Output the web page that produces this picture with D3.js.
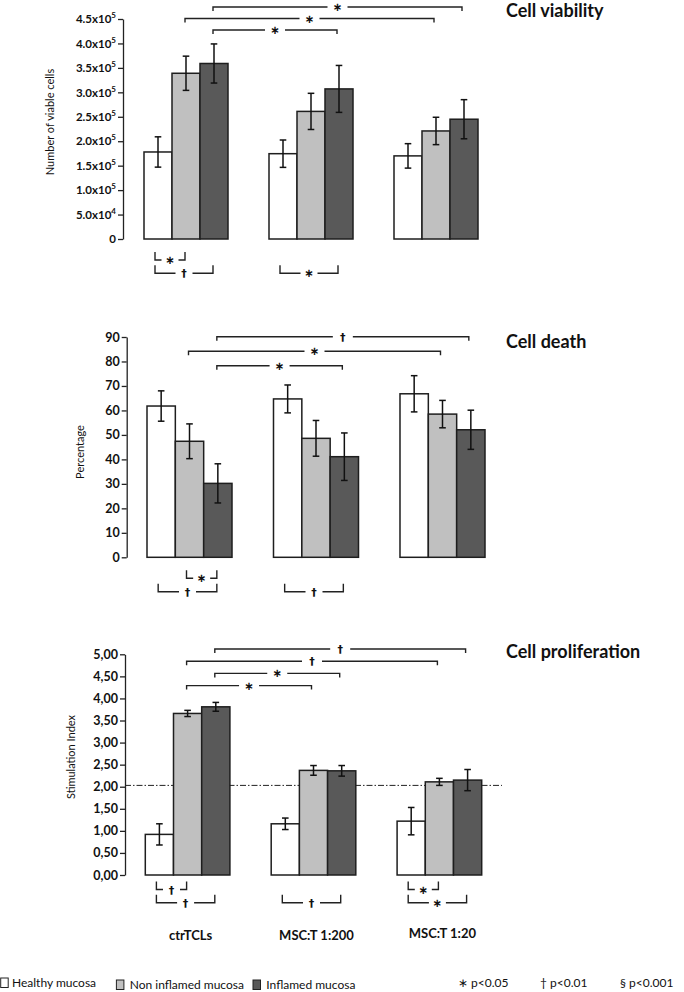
<!DOCTYPE html>
<html><head><meta charset="utf-8">
<script src="https://cdn.jsdelivr.net/npm/d3@7"></script>
<style>body{margin:0;background:#fff} svg{display:block}</style>
</head><body><svg id="c" width="684" height="992"></svg>
<script>
// ---------- data ----------
const groups = ["ctrTCLs", "MSC:T 1:200", "MSC:T 1:20"];
const seriesNames = ["Healthy mucosa", "Non inflamed mucosa", "Inflamed mucosa"];

const viabilityMean = [[178000, 339000, 359000], [174500, 261000, 307000], [170000, 221000, 245000]];
const viabilityErr  = [[31000, 35000, 40000], [28000, 37000, 48000], [25000, 28000, 40000]];
const viabilityTicks = [0, 50000, 100000, 150000, 200000, 250000, 300000, 350000, 400000, 450000];

const deathMean = [[61.8, 47.4, 30.2], [64.7, 48.6, 41.1], [66.8, 58.5, 52.1]];
const deathErr  = [[6.2, 7.1, 8.0], [5.7, 7.3, 9.7], [7.4, 5.6, 8.0]];
const deathTicks = [0, 10, 20, 30, 40, 50, 60, 70, 80, 90];

const prolifMean = [[0.92, 3.66, 3.81], [1.16, 2.37, 2.36], [1.22, 2.11, 2.15]];
const prolifErr  = [[0.24, 0.07, 0.10], [0.13, 0.11, 0.12], [0.31, 0.08, 0.24]];
const prolifTicks = [0, 0.5, 1, 1.5, 2, 2.5, 3, 3.5, 4, 4.5, 5];
const prolifThreshold = 2.03;

// significance brackets: a/b = [group index, series index]
const viabilityTopBr = [
  {a: [0, 2], b: [2, 2], label: "∗", row: 0},
  {a: [0, 1], b: [2, 1], label: "∗", row: 1},
  {a: [0, 2], b: [1, 2], label: "∗", row: 2}];
const viabilityBotBr = [
  {a: [0, 0], b: [0, 1], label: "∗", row: 0},
  {a: [0, 0], b: [0, 2], label: "†", row: 1},
  {a: [1, 0], b: [1, 2], label: "∗", row: 1}];
const deathTopBr = [
  {a: [0, 2], b: [2, 2], label: "†", row: 0},
  {a: [0, 1], b: [2, 1], label: "∗", row: 1},
  {a: [0, 2], b: [1, 2], label: "∗", row: 2}];
const deathBotBr = [
  {a: [0, 1], b: [0, 2], label: "∗", row: 0},
  {a: [0, 0], b: [0, 2], label: "†", row: 1},
  {a: [1, 0], b: [1, 2], label: "†", row: 1}];
const prolifTopBr = [
  {a: [0, 2], b: [2, 2], label: "†", row: 0},
  {a: [0, 1], b: [2, 1], label: "†", row: 1},
  {a: [0, 2], b: [1, 2], label: "∗", row: 2},
  {a: [0, 1], b: [1, 1], label: "∗", row: 3}];
const prolifBotBr = [
  {a: [0, 0], b: [0, 1], label: "†", row: 0},
  {a: [0, 0], b: [0, 2], label: "†", row: 1},
  {a: [1, 0], b: [1, 2], label: "†", row: 1},
  {a: [2, 0], b: [2, 1], label: "∗", row: 0},
  {a: [2, 0], b: [2, 2], label: "∗", row: 1}];

const legendP = ["∗ p<0.05", "† p<0.01", "§ p<0.001"];

// ---------- styles ----------
const colors = ["#ffffff", "#c0c0c0", "#595959"];
const FONT = "Lato, 'Open Sans', sans-serif";
const svg = d3.select("#c");

function drawPanel(p) {
  const g = svg.append("g");
  const y = d3.scaleLinear().domain(p.domain).range([p.yBottom, p.yTop]);
  const xg = d3.scaleBand().domain(groups).range(p.xRange).paddingInner(0.328).paddingOuter(0);
  const xs = d3.scaleBand().domain(seriesNames).range([0, xg.bandwidth()]).padding(0);
  const cx = (gi, si) => xg(groups[gi]) + xs(seriesNames[si]) + xs.bandwidth() / 2;

  // axis
  const ax = g.append("g").attr("transform", `translate(${p.axisX},0)`)
    .call(d3.axisLeft(y).tickValues(p.ticks).tickSize(5).tickSizeOuter(0).tickPadding(2).tickFormat(p.fmt));
  ax.select(".domain").attr("stroke", "#222").attr("stroke-width", 1.3);
  ax.selectAll(".tick line").attr("stroke", "#222").attr("stroke-width", 1.3);
  ax.selectAll(".tick text").attr("font-family", FONT).attr("font-weight", "bold")
    .attr("font-size", p.tickSize).attr("fill", "#111");
  if (p.sciTicks) {
    ax.selectAll(".tick text").each(function(d) {
      const t = d3.select(this);
      t.text(null);
      if (d === 0) { t.text("0"); return; }
      const e = Math.floor(Math.log10(d));
      const m = (d / Math.pow(10, e)).toFixed(1);
      t.append("tspan").text(m + "x10");
      t.append("tspan").attr("dy", -5).attr("font-size", 8).text(e);
    });
  }

  // y title
  g.append("text").attr("transform", `translate(${p.ytitleX},${p.ytitleY}) rotate(-90)`)
    .attr("text-anchor", "middle").attr("font-family", FONT).attr("font-size", 11)
    .attr("fill", "#111").text(p.ytitle);

  // reference line
  if (p.refLine !== undefined) {
    g.append("line").attr("x1", p.axisX).attr("x2", p.refEnd)
      .attr("y1", y(p.refLine)).attr("y2", y(p.refLine))
      .attr("stroke", "#222").attr("stroke-width", 1).attr("stroke-dasharray", "6,2,1.5,2");
  }

  const flat = groups.flatMap((gn, gi) => seriesNames.map((sn, si) =>
    ({gi, si, v: p.means[gi][si], e: p.errs[gi][si]})));

  g.selectAll("rect.bar").data(flat).join("rect").attr("class", "bar")
    .attr("x", d => xg(groups[d.gi]) + xs(seriesNames[d.si]))
    .attr("width", xs.bandwidth())
    .attr("y", d => y(d.v)).attr("height", d => y(0) - y(d.v))
    .attr("fill", d => colors[d.si]).attr("stroke", "#1e1e1e").attr("stroke-width", 1.5);

  // error bars
  const eb = g.selectAll("g.eb").data(flat).join("g").attr("class", "eb")
    .attr("stroke", "#111").attr("stroke-width", 1.5);
  eb.append("line").attr("x1", d => cx(d.gi, d.si)).attr("x2", d => cx(d.gi, d.si))
    .attr("y1", d => y(d.v - d.e)).attr("y2", d => y(d.v + d.e));
  eb.append("line").attr("x1", d => cx(d.gi, d.si) - 3.3).attr("x2", d => cx(d.gi, d.si) + 3.3)
    .attr("y1", d => y(d.v + d.e)).attr("y2", d => y(d.v + d.e));
  eb.append("line").attr("x1", d => cx(d.gi, d.si) - 3.3).attr("x2", d => cx(d.gi, d.si) + 3.3)
    .attr("y1", d => y(d.v - d.e)).attr("y2", d => y(d.v - d.e));

  // title
  g.append("text").attr("x", 506).attr("y", p.titleY).attr("font-family", FONT)
    .attr("font-weight", "bold").attr("font-size", 18).attr("fill", "#111").text(p.title);

  // brackets
  function bracket(b, yy, dir, gap, tick, offA, offB) {
    const x1 = cx(b.a[0], b.a[1]) + offA, x2 = cx(b.b[0], b.b[1]) + offB;
    const mid = (x1 + x2) / 2;
    g.append("path")
      .attr("d", `M${x1},${yy + dir * tick}V${yy}H${mid - gap}M${mid + gap},${yy}H${x2}V${yy + dir * tick}`)
      .attr("fill", "none").attr("stroke", "#222").attr("stroke-width", 1.4);
    g.append("text").attr("x", mid).attr("y", yy + 4).attr("text-anchor", "middle")
      .attr("font-family", "DejaVu Sans, sans-serif").attr("font-weight", "bold")
      .attr("font-size", b.label === "∗" ? 11.5 : 11).attr("fill", "#111").text(b.label);
  }
  p.topBr.forEach(b => bracket(b, p.topRowY + b.row * p.topStep, 1, 10, 4, -1, -2));
  p.botBr.forEach(b => bracket(b, p.botRowY + b.row * p.botStep, -1, 8.5, 8, -3, -1));
  return {xg, xs};
}

drawPanel({
  title: "Cell viability", titleY: 17, ytitle: "Number of viable cells", ytitleX: 54, ytitleY: 122,
  means: viabilityMean, errs: viabilityErr, ticks: viabilityTicks, domain: [0, 450000],
  fmt: d => d, sciTicks: true, tickSize: 11.5,
  axisX: 123, yTop: 19, yBottom: 239, xRange: [144, 478],
  topBr: viabilityTopBr, botBr: viabilityBotBr, topRowY: 7, topStep: 11.5, botRowY: 260, botStep: 13.3
});
drawPanel({
  title: "Cell death", titleY: 348, ytitle: "Percentage", ytitleX: 84, ytitleY: 452,
  means: deathMean, errs: deathErr, ticks: deathTicks, domain: [0, 90],
  fmt: d => d, tickSize: 12.5,
  axisX: 126.7, yTop: 337, yBottom: 557.3, xRange: [147, 485],
  topBr: deathTopBr, botBr: deathBotBr, topRowY: 336.7, topStep: 14.5, botRowY: 578.3, botStep: 13.4
});
const last = drawPanel({
  title: "Cell proliferation", titleY: 658, ytitle: "Stimulation Index", ytitleX: 75, ytitleY: 757,
  means: prolifMean, errs: prolifErr, ticks: prolifTicks, domain: [0, 5],
  fmt: d => d.toFixed(2).replace(".", ","), tickSize: 12.5,
  axisX: 125, yTop: 654.3, yBottom: 875, xRange: [145.3, 481.7],
  refLine: prolifThreshold, refEnd: 502,
  topBr: prolifTopBr, botBr: prolifBotBr, topRowY: 649, topStep: 12.2, botRowY: 889.5, botStep: 13.2
});

// category labels
svg.selectAll("text.cat").data(groups).join("text").attr("class", "cat")
  .attr("x", d => last.xg(d) + last.xg.bandwidth() / 2 + 3)
  .attr("y", (d, i) => i === 2 ? 938 : 940)
  .attr("text-anchor", "middle").attr("font-family", FONT).attr("font-weight", "bold")
  .attr("font-size", 13).attr("fill", "#111").text(d => d);

// legend
const legX = [0, 115.7, 252.3];
const leg = svg.selectAll("g.leg").data(seriesNames).join("g").attr("class", "leg")
  .attr("transform", (d, i) => `translate(${legX[i]},${i === 0 ? 978 : 980})`);
leg.append("rect").attr("x", 0.7).attr("y", 0).attr("width", 7.5).attr("height", 9.5)
  .attr("fill", (d, i) => colors[i]).attr("stroke", "#222").attr("stroke-width", 1);
leg.append("text").attr("x", (d, i) => i === 0 ? 12 : 14).attr("y", 9).attr("font-family", FONT)
  .attr("font-size", 12).attr("fill", "#111").text(d => d);

const pX = [458, 540, 620];
svg.selectAll("text.pv").data(legendP).join("text").attr("class", "pv")
  .attr("x", (d, i) => pX[i]).attr("y", 987).attr("font-family", FONT)
  .attr("font-size", 12).attr("fill", "#111").text(d => d);
</script>
</body></html>
